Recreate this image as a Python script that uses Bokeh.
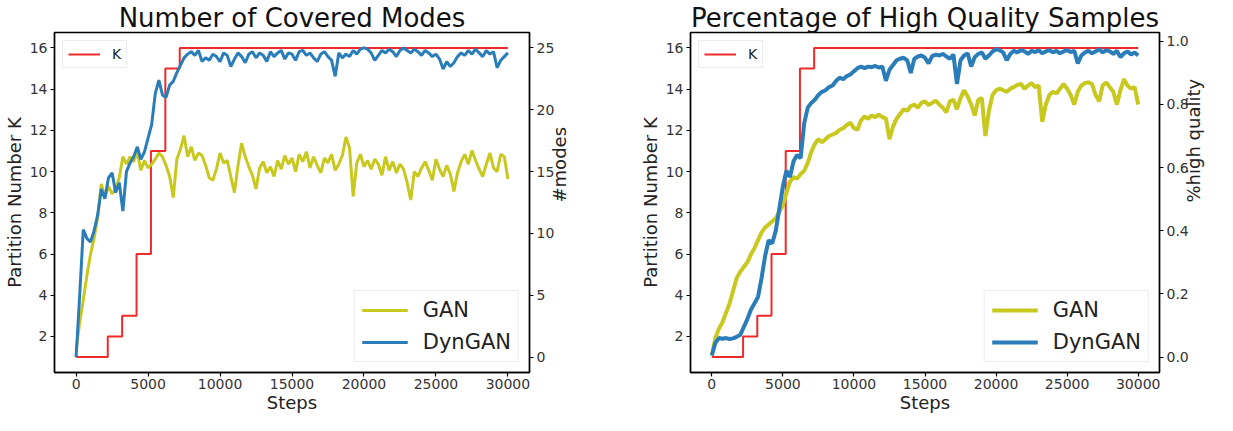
import math
from bokeh.plotting import figure
from bokeh.models import Range1d, LinearAxis, Legend, LegendItem, FixedTicker, PrintfTickFormatter
from bokeh.layouts import row
from bokeh.embed import file_html
from bokeh.resources import INLINE

steps = list(range(0, 30001, 250))

k_steps = [0, 2200, 3200, 4200, 5200, 6200, 7200, 30000]
k_values = [1, 2, 3, 6, 11, 15, 16, 16]

modes_dyngan = [
    0.0, 5.0, 10.3, 9.6, 9.3, 10.2, 11.5, 13.6, 12.8, 14.5,
    14.9, 13.3, 14.1, 11.8, 15.0, 15.7, 16.2, 17.0, 16.0, 16.6,
    17.7, 18.8, 21.3, 22.4, 21.2, 21.0, 22.0, 22.3, 23.0, 23.6,
    24.2, 24.5, 24.7, 24.4, 24.8, 23.9, 24.2, 24.0, 24.5, 24.3,
    23.9, 24.6, 24.4, 23.5, 24.1, 24.6, 24.3, 23.8, 24.5, 24.7,
    24.2, 24.6, 24.4, 23.9, 24.7, 24.3, 24.6, 24.8, 24.1, 24.6,
    24.5, 24.0, 24.7, 24.8, 24.4, 24.6, 24.2, 23.9, 24.5, 24.7,
    24.3, 24.0, 22.7, 24.6, 24.2, 24.5, 24.3, 24.8, 24.5, 24.9,
    25.0, 24.9, 24.6, 24.0, 24.4, 24.8, 24.6, 24.9, 24.7, 24.3,
    24.8, 25.0, 24.8, 24.6, 24.9, 24.7, 24.4, 24.8, 24.6, 24.3,
    24.5, 24.1, 23.3, 23.9, 23.5, 23.8, 24.3, 24.6, 24.4, 24.8,
    24.5, 24.9, 24.6, 24.3, 24.8, 24.5, 24.7, 23.4, 24.0, 24.3,
    24.6,
]

modes_gan = [
    0.5, 2.8, 4.6, 6.6, 8.3, 9.6, 11.3, 14.0, 13.0, 13.8,
    13.2, 13.6, 14.5, 16.2, 15.6, 16.2, 15.8, 16.6, 15.1, 15.9,
    15.3, 15.6, 16.0, 16.5, 16.2, 15.5, 14.6, 12.9, 16.0, 16.8,
    17.9, 16.2, 17.0, 15.9, 16.5, 16.3, 15.5, 14.5, 14.3, 15.2,
    16.5, 15.7, 15.9, 14.6, 13.3, 15.5, 17.3, 16.2, 15.4, 14.7,
    13.6, 15.3, 15.8, 14.9, 15.4, 14.6, 15.9, 15.2, 16.3, 15.6,
    16.1, 15.0, 16.4, 15.8, 16.6, 15.3, 16.2, 15.5, 14.9, 16.1,
    15.7, 16.4, 15.1, 15.6, 16.3, 17.8, 16.9, 13.0, 15.7, 16.4,
    15.4, 15.9, 15.2, 16.0, 15.6, 14.7, 16.2, 15.1, 15.8, 14.9,
    15.6, 15.2, 14.1, 12.7, 15.0, 14.6, 15.3, 15.8, 15.1, 14.3,
    16.0, 15.2, 14.6, 15.5, 14.8, 13.4, 14.9, 15.8, 16.4, 15.6,
    16.7, 15.9, 15.2, 14.6, 15.6, 16.5, 15.3, 15.0, 16.4, 16.2,
    14.4,
]

hq_dyngan = [
    0.005, 0.045, 0.06, 0.058, 0.06, 0.057, 0.059, 0.064, 0.07, 0.095,
    0.12, 0.15, 0.17, 0.19, 0.25, 0.32, 0.37, 0.36, 0.40, 0.47,
    0.54, 0.59, 0.57, 0.62, 0.64, 0.63, 0.74, 0.79, 0.805, 0.815,
    0.83, 0.84, 0.845, 0.855, 0.86, 0.875, 0.885, 0.88, 0.89, 0.895,
    0.905, 0.915, 0.92, 0.915, 0.92, 0.918, 0.922, 0.917, 0.92, 0.875,
    0.91, 0.925, 0.94, 0.945, 0.948, 0.94, 0.90, 0.945, 0.952, 0.955,
    0.948, 0.93, 0.953, 0.958, 0.955, 0.96, 0.952, 0.945, 0.958, 0.865,
    0.94, 0.955, 0.962, 0.92, 0.95, 0.96, 0.965, 0.945, 0.955, 0.968,
    0.975, 0.972, 0.965, 0.94, 0.96, 0.97, 0.965, 0.972, 0.968, 0.96,
    0.97, 0.966, 0.972, 0.962, 0.968, 0.972, 0.965, 0.97, 0.962, 0.968,
    0.972, 0.966, 0.97, 0.93, 0.955, 0.965, 0.97, 0.962, 0.968, 0.975,
    0.965, 0.972, 0.968, 0.96, 0.97, 0.95, 0.962, 0.968, 0.958, 0.965,
    0.955,
]

hq_gan = [
    0.005, 0.06, 0.09, 0.11, 0.14, 0.17, 0.21, 0.25, 0.27, 0.285,
    0.30, 0.325, 0.345, 0.37, 0.395, 0.41, 0.42, 0.43, 0.44, 0.46,
    0.48, 0.52, 0.555, 0.57, 0.565, 0.58, 0.59, 0.615, 0.65, 0.675,
    0.69, 0.68, 0.69, 0.70, 0.705, 0.71, 0.72, 0.725, 0.735, 0.742,
    0.725, 0.72, 0.75, 0.762, 0.755, 0.765, 0.76, 0.768, 0.76, 0.755,
    0.69, 0.73, 0.755, 0.77, 0.785, 0.78, 0.795, 0.80, 0.79, 0.805,
    0.81, 0.798, 0.805, 0.812, 0.80, 0.79, 0.775, 0.81, 0.815, 0.785,
    0.82, 0.845, 0.825, 0.80, 0.765, 0.815, 0.82, 0.70, 0.78, 0.83,
    0.845, 0.85, 0.845, 0.84, 0.85, 0.855, 0.862, 0.865, 0.85, 0.86,
    0.868, 0.855, 0.86, 0.745, 0.80, 0.83, 0.84, 0.835, 0.85, 0.865,
    0.85, 0.83, 0.80, 0.84, 0.86, 0.868, 0.87, 0.865, 0.83, 0.81,
    0.86, 0.87, 0.855, 0.84, 0.80, 0.845, 0.88, 0.86, 0.85, 0.855,
    0.80,
]

x_ticks = [0, 5000, 10000, 15000, 20000, 25000, 30000]
k_ticks = [2, 4, 6, 8, 10, 12, 14, 16]
modes_ticks = [0, 5, 10, 15, 20, 25]
hq_ticks = [0.0, 0.2, 0.4, 0.6, 0.8, 1.0]

FONT = "DejaVu Sans"
RED = "#ee2a2a"
YEL = "#c8c81e"
BLUE = "#2a7db8"


def style_axis(ax, label_size="18px"):
    ax.axis_line_color = "black"
    ax.axis_line_width = 1.4
    ax.major_tick_line_color = "black"
    ax.major_tick_line_width = 1.2
    ax.major_tick_out = 4
    ax.major_tick_in = 0
    ax.minor_tick_line_color = None
    ax.major_label_text_font = FONT
    ax.major_label_text_font_size = "14px"
    ax.major_label_text_color = "#333333"
    ax.major_label_standoff = 3
    ax.axis_label_text_font = FONT
    ax.axis_label_text_font_size = label_size
    ax.axis_label_text_font_style = "normal"
    ax.axis_label_text_color = "#222222"
    ax.axis_label_standoff = 2


def make_fig(title, width, bl, br, rrange, rticks, rlabel, rfmt, gan, dyn, lw):
    p = figure(width=width, height=415, x_range=Range1d(-1500, 31500),
               y_range=Range1d(0.25, 16.75), output_backend="svg",
               toolbar_location=None, min_border_left=bl, min_border_right=br,
               min_border_top=29, min_border_bottom=36)
    p.title.text = title
    p.title.text_font = FONT
    p.title.text_font_size = "26px"
    p.title.text_font_style = "normal"
    p.title.text_color = "#111111"
    p.title.align = "center"
    p.title.standoff = 0
    p.grid.visible = False
    p.outline_line_color = "black"
    p.outline_line_width = 1.4
    p.outline_line_alpha = 1.0
    p.background_fill_color = "white"
    p.border_fill_color = "white"

    p.xaxis.ticker = FixedTicker(ticks=x_ticks)
    p.xaxis.axis_label = "Steps"
    p.yaxis.ticker = FixedTicker(ticks=k_ticks)
    p.yaxis.axis_label = "Partition Number K"
    style_axis(p.xaxis[0], "18px")
    style_axis(p.yaxis[0], "18px")
    p.xaxis[0].major_label_standoff = 2
    p.xaxis[0].axis_label_standoff = 0

    p.extra_y_ranges = {"r": rrange}
    rax = LinearAxis(y_range_name="r", axis_label=rlabel, ticker=FixedTicker(ticks=rticks))
    if rfmt:
        rax.formatter = PrintfTickFormatter(format=rfmt)
    style_axis(rax, "18px")
    if "axis_label_orientation" in rax.properties():
        rax.axis_label_orientation = math.pi / 2
    p.add_layout(rax, "right")

    rk = p.step(k_steps, k_values, mode="after", line_color=RED, line_width=2)
    rg = p.line(steps, gan, line_color=YEL, line_width=lw, y_range_name="r")
    rd = p.line(steps, dyn, line_color=BLUE, line_width=lw, y_range_name="r")

    lk = Legend(items=[LegendItem(label="K", renderers=[rk])], location="top_left",
                margin=8, padding=5, glyph_width=32, glyph_height=16, label_height=16,
                label_width=8, label_standoff=12, label_text_font=FONT,
                label_text_font_size="14px", label_text_color="#222222",
                border_line_color="#d9d9d9", border_line_width=1,
                background_fill_alpha=0.85)
    lg = Legend(items=[LegendItem(label="GAN", renderers=[rg]),
                       LegendItem(label="DynGAN", renderers=[rd])],
                location="bottom_right", margin=10, padding=7, spacing=8,
                glyph_width=46, glyph_height=22, label_height=22, label_standoff=15,
                label_text_font=FONT, label_text_font_size="21px",
                label_text_color="#222222", border_line_color="#d9d9d9",
                border_line_width=1, background_fill_alpha=0.85)
    p.add_layout(lk)
    p.add_layout(lg)
    return p


p1 = make_fig("Number of Covered Modes", 589, 52, 60, Range1d(-1.25, 26.25),
              modes_ticks, "#modes", None, modes_gan, modes_dyngan, 3)
p2 = make_fig("Percentage of High Quality Samples", 628, 101, 56, Range1d(-0.049, 1.028),
              hq_ticks, "%high quality", "%.1f", hq_gan, hq_dyngan, 4)

layout = row(p1, p2)
open("out.html", "w").write(file_html(layout, INLINE))
